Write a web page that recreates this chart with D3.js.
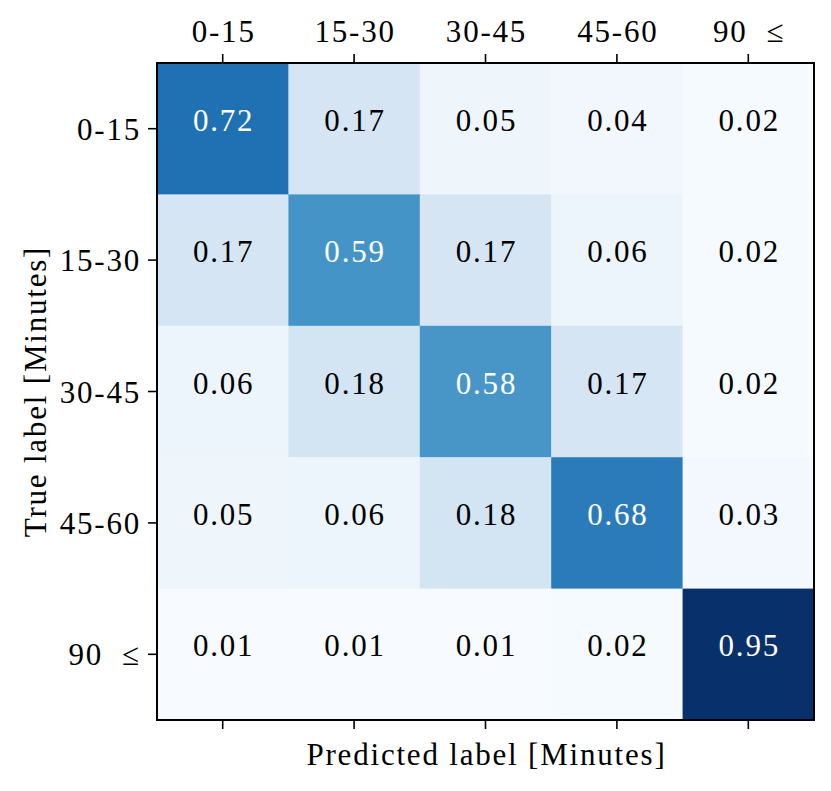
<!DOCTYPE html>
<html>
<head>
<meta charset="utf-8">
<script src="https://d3js.org/d3.v7.min.js"></script>
<style>
  body { margin: 0; background: #fff; }
  text { font-family: "Liberation Serif", "DejaVu Serif", serif; }
</style>
</head>
<body>
<div id="chart"></div>
<script>

// class labels, same order on both axes
var classes = ["0-15", "15-30", "30-45", "45-60", "90 \u2264"];

// normalised confusion matrix, one array per true label
var row0 = [0.72, 0.17, 0.05, 0.04, 0.02];
var row1 = [0.17, 0.59, 0.17, 0.06, 0.02];
var row2 = [0.06, 0.18, 0.58, 0.17, 0.02];
var row3 = [0.05, 0.06, 0.18, 0.68, 0.03];
var row4 = [0.01, 0.01, 0.01, 0.02, 0.95];
var matrix = [row0, row1, row2, row3, row4];

// matplotlib "Blues" stops
var blues = ["#f7fbff","#deebf7","#c6dbef","#9ecae1","#6baed6",
             "#4292c6","#2171b5","#08519c","#08306b"];

var W = 831, H = 791;
var plot = { left: 157, top: 63, size: 657 };
var fontSize = "31px", spacing = "1.8px";

var svg = d3.select("#chart").append("svg")
            .attr("width", W)
            .attr("height", H);

var cells = [];
matrix.forEach(function(r, i) {
  r.forEach(function(v, j) { cells.push({ row: classes[i], col: classes[j], v: v }); });
});

var vmin = d3.min(cells, function(d) { return d.v; });
var vmax = d3.max(cells, function(d) { return d.v; });

var norm = d3.scaleLinear().domain([vmin, vmax]).range([0, 1]);
var color = d3.scaleLinear()
              .domain(blues.map(function(c, i) { return i / (blues.length - 1); }))
              .range(blues)
              .interpolate(d3.interpolateRgb);

var x = d3.scaleBand().domain(classes).range([plot.left, plot.left + plot.size]);
var y = d3.scaleBand().domain(classes).range([plot.top, plot.top + plot.size]);

svg.selectAll("rect.cell")
   .data(cells)
   .enter()
   .append("rect")
   .attr("class", "cell")
   .attr("x", function(d) { return x(d.col); })
   .attr("y", function(d) { return y(d.row); })
   .attr("width", x.bandwidth() + 0.5)
   .attr("height", y.bandwidth() + 0.5)
   .attr("fill", function(d) { return color(norm(d.v)); });

// white text on the dark cells, as sklearn does
var thresh = (vmin + vmax) / 2;
svg.selectAll("text.val")
   .data(cells)
   .enter()
   .append("text")
   .attr("class", "val")
   .attr("x", function(d) { return x(d.col) + x.bandwidth() / 2 + 1; })
   .attr("y", function(d) { return y(d.row) + y.bandwidth() / 2 + 2; })
   .attr("text-anchor", "middle")
   .style("font-size", fontSize)
   .style("letter-spacing", spacing)
   .attr("fill", function(d) { return d.v > thresh ? "#fff" : "#000"; })
   .text(function(d) { return d.v.toFixed(2); });

// axes
var axTop = svg.append("g")
             .attr("transform", "translate(0," + plot.top + ")")
             .call(d3.axisTop(x).tickSize(9).tickSizeOuter(0).tickPadding(12));
var axBottom = svg.append("g")
             .attr("transform", "translate(0," + (plot.top + plot.size) + ")")
             .call(d3.axisBottom(x).tickSize(9).tickSizeOuter(0).tickFormat(""));
var axLeft = svg.append("g")
             .attr("transform", "translate(" + plot.left + ",0)")
             .call(d3.axisLeft(y).tickSize(9).tickSizeOuter(0).tickPadding(7));

[axTop, axBottom, axLeft].forEach(function(g) {
  g.select(".domain").remove();
  g.selectAll(".tick line").attr("stroke", "#000").attr("stroke-width", 1.6);
  g.selectAll(".tick text")
   .attr("fill", "#000")
   .style("font-size", fontSize)
   .style("letter-spacing", spacing)
   .style("font-family", "'Liberation Serif', 'DejaVu Serif', serif");
});
axLeft.selectAll(".tick text").attr("dy", "0.36em");
axTop.selectAll(".tick text").attr("dy", "0").attr("dx", "1");
axTop.selectAll(".tick text").filter(function(d) { return d === classes[4]; })
     .attr("xml:space", "preserve").text("90  \u2264");
axLeft.selectAll(".tick text").filter(function(d) { return d === classes[4]; })
     .attr("xml:space", "preserve").text("90  \u2264");

// frame
svg.append("rect")
   .attr("x", plot.left)
   .attr("y", plot.top)
   .attr("width", plot.size)
   .attr("height", plot.size)
   .attr("fill", "none")
   .attr("stroke", "#000")
   .attr("stroke-width", 2);

svg.append("text")
   .attr("x", plot.left + plot.size / 2 + 1)
   .attr("y", 765)
   .attr("text-anchor", "middle")
   .style("font-size", fontSize)
   .style("letter-spacing", spacing)
   .text("Predicted label [Minutes]");

svg.append("text")
   .attr("transform", "translate(46," + (plot.top + plot.size / 2) + ") rotate(-90)")
   .attr("text-anchor", "middle")
   .style("font-size", fontSize)
   .style("letter-spacing", spacing)
   .text("True label [Minutes]");

</script>
</body>
</html>
